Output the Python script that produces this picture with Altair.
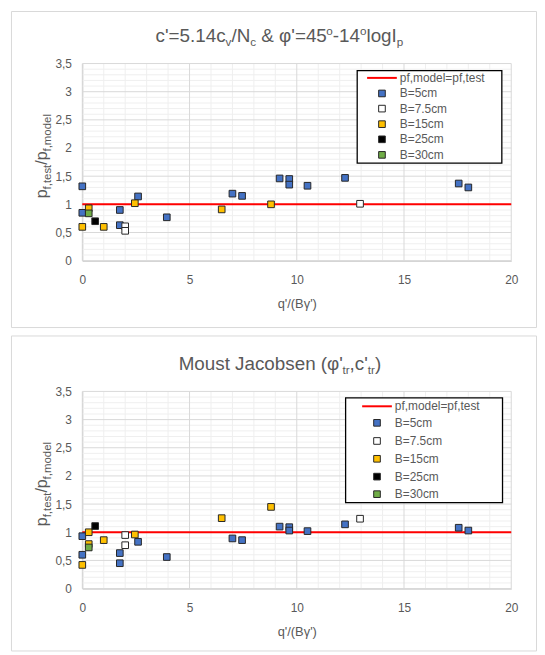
import altair as alt
import pandas as pd

FONT = "Liberation Sans"
TXT = "#595959"

# ---------------- data ----------------
series_names = ["B=5cm", "B=7.5cm", "B=15cm", "B=25cm", "B=30cm"]
series_fill = ["#4472C4", "#FFFFFF", "#FFC000", "#000000", "#70AD47"]
model_label = "pf,model=pf,test"
model_x = [0, 20]
model_y = [1, 1]

x_ticks = [0, 5, 10, 15, 20]
y_ticks = [0, 0.5, 1, 1.5, 2, 2.5, 3, 3.5]
x_minor = [1, 2, 3, 4, 6, 7, 8, 9, 11, 12, 13, 14, 16, 17, 18, 19]
y_minor = [0.1, 0.2, 0.3, 0.4, 0.6, 0.7, 0.8, 0.9, 1.1, 1.2, 1.3, 1.4,
           1.6, 1.7, 1.8, 1.9, 2.1, 2.2, 2.3, 2.4, 2.6, 2.7, 2.8, 2.9,
           3.1, 3.2, 3.3, 3.4]

# B=5cm
x_b5 = [0, 0, 1.75, 1.75, 2.6, 3.94, 7.0, 7.45, 9.2, 9.65, 9.65, 10.5, 12.25, 17.55, 18.0]
p1_b5 = [1.32, 0.85, 0.90, 0.63, 1.14, 0.77, 1.19, 1.15, 1.46, 1.45, 1.35, 1.33, 1.47, 1.37, 1.30]
p2_b5 = [0.93, 0.60, 0.63, 0.45, 0.83, 0.56, 0.89, 0.86, 1.10, 1.09, 1.03, 1.02, 1.14, 1.08, 1.03]
# B=7.5cm
x_b75 = [2.0, 2.0, 12.95]
p1_b75 = [0.61, 0.53, 1.01]
p2_b75 = [0.95, 0.77, 1.24]
# B=15cm
p1_x_b15 = [0, 0.3, 1.0, 2.45, 6.5, 8.8]
p1_b15 = [0.60, 0.93, 0.60, 1.02, 0.91, 1.00]
p2_x_b15 = [0, 0.3, 0.3, 1.0, 2.45, 6.5, 8.8]
p2_b15 = [0.42, 1.00, 0.79, 0.86, 0.96, 1.25, 1.45]
# B=25cm
x_b25 = [0.6]
p1_b25 = [0.70]
p2_b25 = [1.11]
# B=30cm
x_b30 = [0.3]
p1_b30 = [0.84]
p2_b30 = [0.73]


def make_df(pairs):
    rows = []
    for name, xs, ys in pairs:
        for xv, yv in zip(xs, ys):
            rows.append({"x": xv, "y": yv, "series": name})
    return pd.DataFrame(rows)


df1 = make_df([("B=5cm", x_b5, p1_b5), ("B=7.5cm", x_b75, p1_b75),
               ("B=15cm", p1_x_b15, p1_b15), ("B=25cm", x_b25, p1_b25),
               ("B=30cm", x_b30, p1_b30)])
df2 = make_df([("B=5cm", x_b5, p2_b5), ("B=7.5cm", x_b75, p2_b75),
               ("B=15cm", p2_x_b15, p2_b15), ("B=25cm", x_b25, p2_b25),
               ("B=30cm", x_b30, p2_b30)])
df_model = pd.DataFrame({"x": model_x, "y": model_y})

# ---------------- layout ----------------
W, H = 433, 199
ONE = pd.DataFrame({"k": [0]})

AW = {c: 556 for c in "0123456789abdeghnopqu"}
AW.update({" ": 278, "'": 191, "=": 584, ".": 278, ",": 278, "/": 278, "&": 667,
           "-": 333, "(": 333, ")": 333, "c": 500, "v": 500, "s": 500, "k": 500,
           "x": 500, "y": 500, "z": 500, "f": 278, "t": 278, "i": 222, "j": 222,
           "l": 222, "r": 333, "m": 833, "w": 722, "N": 722, "M": 833, "J": 500,
           "I": 278, "B": 667, "φ": 620, "γ": 500})


def tw(s, size):
    return sum(AW.get(ch, 556) for ch in s) * size / 1000.0


def rich_h(segs, cx, base_y, size, ratio=0.62):
    sub = size * ratio
    widths = [tw(t, size if k == "n" else sub) for t, k in segs]
    x = cx - sum(widths) / 2
    out = []
    for (t, k), w in zip(segs, widths):
        fs = size if k == "n" else sub
        dy = 0 if k == "n" else (size * 0.22 if k == "b" else -size * 0.36)
        lead = len(t) - len(t.lstrip(" "))
        xs = x + tw(" " * lead, fs)
        out.append(alt.Chart(ONE).mark_text(align="left", baseline="alphabetic", font=FONT,
                                            fontSize=fs, color=TXT)
                   .encode(x=alt.value(xs), y=alt.value(base_y + dy), text=alt.value(t.strip(" "))))
        x += w
    return out


def rich_v(segs, base_x, start_y, size, ratio=0.72):
    sub = size * ratio
    y = start_y
    out = []
    for t, k in segs:
        fs = size if k == "n" else sub
        dx = 0 if k == "n" else size * 0.25
        out.append(alt.Chart(ONE).mark_text(align="left", baseline="alphabetic", font=FONT,
                                            fontSize=fs, color=TXT, angle=270)
                   .encode(x=alt.value(base_x + dx), y=alt.value(y), text=alt.value(t)))
        y -= tw(t, fs)
    return out


xscale = alt.Scale(domain=[0, 20], nice=False, zero=False)
yscale = alt.Scale(domain=[0, 3.5], nice=False, zero=False)
xaxis = alt.Axis(values=x_ticks, title="q'/(Bγ')", grid=False, ticks=False, tickSize=0,
                 labelPadding=14, titlePadding=12, domainColor="#bfbfbf", domainWidth=1,
                 labelColor=TXT, labelFont=FONT, labelFontSize=12, titleFont=FONT,
                 titleFontSize=13, titleFontWeight="normal", titleColor=TXT, labelFlush=False)
yaxis = alt.Axis(values=y_ticks, labelExpr="replace(toString(datum.value), '.', ',')",
                 title=None, grid=False, ticks=False, tickSize=0, labelPadding=11,
                 domainColor="#bfbfbf", domainWidth=1, labelColor=TXT, labelFont=FONT,
                 labelFontSize=12, labelFlush=False)


def X(f):
    return alt.X(f"{f}:Q", scale=xscale, axis=xaxis)


def Y(f):
    return alt.Y(f"{f}:Q", scale=yscale, axis=yaxis)


def grid_layers():
    gxm = alt.Chart(pd.DataFrame({"gx": x_minor})).mark_rule(color="#efefef", strokeWidth=1).encode(x=X("gx"))
    gym = alt.Chart(pd.DataFrame({"gy": y_minor})).mark_rule(color="#efefef", strokeWidth=1).encode(y=Y("gy"))
    gxM = alt.Chart(pd.DataFrame({"gx": x_ticks})).mark_rule(color="#d9d9d9", strokeWidth=1).encode(x=X("gx"))
    gyM = alt.Chart(pd.DataFrame({"gy": y_ticks})).mark_rule(color="#d9d9d9", strokeWidth=1).encode(y=Y("gy"))
    return [gxm, gym, gxM, gyM]


def legend_layers(box, line_y, lx0, lx1, text_x, sq_x, ys):
    out = [alt.Chart(ONE).mark_rect(fill="white", stroke="black", strokeWidth=1.3)
           .encode(x=alt.value(box[0]), x2=alt.value(box[2]), y=alt.value(box[1]), y2=alt.value(box[3]))]
    out.append(alt.Chart(ONE).mark_rule(color="#FF0000", strokeWidth=2)
               .encode(x=alt.value(lx0), x2=alt.value(lx1), y=alt.value(line_y)))
    out.append(alt.Chart(ONE).mark_text(align="left", baseline="middle", font=FONT, fontSize=12, color=TXT)
               .encode(x=alt.value(text_x), y=alt.value(line_y), text=alt.value(model_label)))
    for name, fill, yy in zip(series_names, series_fill, ys):
        out.append(alt.Chart(ONE).mark_square(size=45, fill=fill, stroke="#262626", strokeWidth=1, opacity=1)
                   .encode(x=alt.value(sq_x), y=alt.value(yy)))
        out.append(alt.Chart(ONE).mark_text(align="left", baseline="middle", font=FONT, fontSize=12, color=TXT)
                   .encode(x=alt.value(text_x), y=alt.value(yy), text=alt.value(name)))
    return out


def panel(df, frame_top, frame_bottom, title_segs, legend):
    frame = alt.Chart(ONE).mark_rect(filled=False, stroke="#d9d9d9", strokeWidth=1).encode(
        x=alt.value(-71.5), x2=alt.value(458.5), y=alt.value(frame_top), y2=alt.value(frame_bottom))
    line = alt.Chart(df_model).mark_line(color="#FF0000", strokeWidth=2).encode(x=X("x"), y=Y("y"))
    pts = alt.Chart(df).mark_square(size=45, stroke="#262626", strokeWidth=1, opacity=1).encode(
        x=X("x"), y=Y("y"),
        fill=alt.Fill("series:N", scale=alt.Scale(domain=series_names, range=series_fill), legend=None))
    ytitle = rich_v([("p", "n"), ("f,test", "b"), ("/p", "n"), ("f,model", "b")], -36, 136, 16)
    layers = [frame] + grid_layers() + [line, pts] + title_segs + ytitle + legend
    return alt.layer(*layers).properties(width=W, height=H)


title1 = rich_h([("c'=5.14c", "n"), ("v", "b"), ("/N", "n"), ("c", "b"), (" & φ'=45", "n"),
                 ("o", "p"), ("-14", "n"), ("o", "p"), ("logI", "n"), ("p", "b")], 199, -22, 19)
title2 = rich_h([("Moust Jacobsen (φ'", "n"), ("tr", "b"), (",c'", "n"), ("tr", "b"), (")", "n")],
                199.5, -22, 19)

leg1 = legend_layers((277.5, 7.2, 423.5, 100.5), 14.5, 287.5, 317.5, 320.5, 302.5,
                     [30.2, 45.5, 61.2, 76.5, 92.2])
leg2 = legend_layers((265.8, 6.5, 424.2, 112.3), 15, 282.5, 312.5, 315.5, 297.5,
                     [31.7, 50, 68, 86, 103.7])

top = panel(df1, -52.5, 266.5, title1, leg1)
bottom = panel(df2, -56, 262, title2, leg2)

chart = alt.vconcat(top, bottom, spacing=7).properties(
    padding={"left": 3, "top": 0, "right": 0, "bottom": 0}
).configure_view(strokeWidth=0)

chart.save("out.html", embed_options={"renderer": "svg", "actions": False})
